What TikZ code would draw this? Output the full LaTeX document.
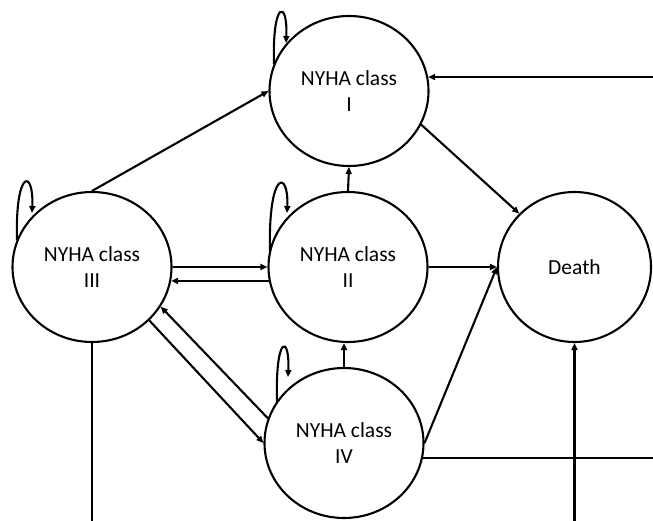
\documentclass[tikz,border=0pt]{standalone}
\usepackage{fontspec}
\setmainfont{Carlito}
\usetikzlibrary{arrows.meta,shapes.geometric}
\begin{document}
\begin{tikzpicture}[x=1bp,y=-1bp,
  state/.style={ellipse,draw,line width=2.1bp,minimum width=159bp,minimum height=150bp,
    inner sep=0pt,align=center,font=\fontsize{21.5bp}{26.5bp}\selectfont},
  link/.style={line width=2.1bp},
  arr/.style={link,-{Triangle[length=7bp,width=6bp]}}]
\clip (0,0) rectangle (653,521);
\node[state] (I) at (349,91) {NYHA class\\I};
\node[state] (II) at (348,267) {NYHA class\\II};
\node[state] (III) at (92,267) {NYHA class\\III};
\node[state] (IV) at (344,443) {NYHA class\\IV};
\node[state,minimum width=153bp] (D) at (574.5,267) {Death};
\coordinate (edgeR) at (653,0);
\coordinate (edgeB) at (0,521);
% arrows
\draw[arr] (I.10 -| edgeR) -- (I.10);
\draw[arr] (I.-25) -- (D.136);
\draw[arr] (III.north) -- (I.west);
\draw[arr] (II.north) -- (I.south);
\draw[arr] (III.east) -- (II.west);
\draw[arr] (II.190) -- (III.-10);
\draw[arr] (II.east) -- (D.west);
\draw[arr] (IV.east) -- (D.west);
\draw[arr] (IV.north) -- (IV.north |- II.south);
\draw[link] (IV.-11) -- (IV.-11 -| edgeR);
\draw[arr] (D.south |- edgeB) -- (D.south);
\draw[link] (III.south) -- (III.south |- edgeB);
\draw[arr] (IV.162) -- (III.-30);
\draw[arr] (III.-43) -- (IV.west);
% self loops
\draw[arr] ([shift={(-75,-27)}]I.center) .. controls +(-2,-64.5) and +(2,-43.5) .. ([shift={(-63,-48)}]I.center);
\draw[arr] ([shift={(-75,-27)}]III.center) .. controls +(-2,-71.5) and +(2,-44.5) .. ([shift={(-60,-54)}]III.center);
\draw[arr] ([shift={(-78,-16)}]II.center) .. controls +(-2,-81.7) and +(2,-43.7) .. ([shift={(-61,-54)}]II.center);
\draw[arr] ([shift={(-67,-41)}]IV.center) .. controls +(-2,-67.8) and +(2,-42.8) .. ([shift={(-56,-66)}]IV.center);
\end{tikzpicture}
\end{document}
